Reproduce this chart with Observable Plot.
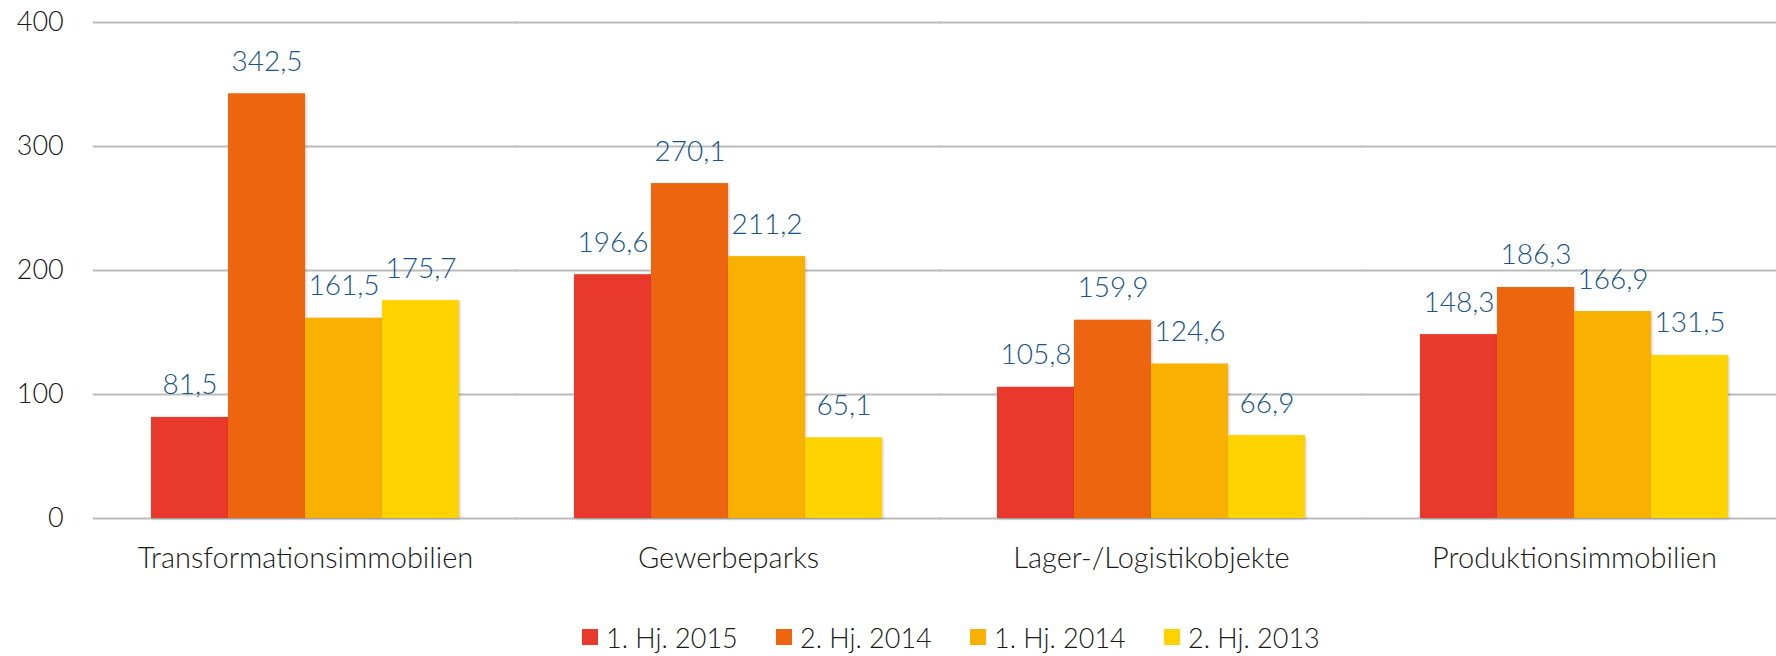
<!DOCTYPE html>
<html><head><meta charset="utf-8">
<script src="https://cdn.jsdelivr.net/npm/d3@7"></script>
<script src="https://cdn.jsdelivr.net/npm/@observablehq/plot@0.6"></script>
<style>
body{margin:0;background:#fff;font-family:Lato,sans-serif;font-weight:300;}
#legend{display:flex;align-items:center;height:74px;padding-left:582px;font-size:27px;color:#1a1a1a;font-family:Lato,sans-serif;font-weight:300;}
.item{display:flex;align-items:center;width:194px;white-space:nowrap;}
.sw{width:16px;height:16px;margin-right:8px;flex:none;}
svg rect{filter:drop-shadow(1px 1px 1.5px rgba(0,0,0,0.22));}
</style></head><body>
<div id="chart"></div><div id="legend"></div>
<script>
const categories = ["Transformationsimmobilien", "Gewerbeparks", "Lager-/Logistikobjekte", "Produktionsimmobilien"];
const series = ["1. Hj. 2015", "2. Hj. 2014", "1. Hj. 2014", "2. Hj. 2013"];
const colors = ["#E8392C", "#EE6510", "#F8B100", "#FED300"];
const h1_2015 = [81.5, 196.6, 105.8, 148.3];
const h2_2014 = [342.5, 270.1, 159.9, 186.3];
const h1_2014 = [161.5, 211.2, 124.6, 166.9];
const h2_2013 = [175.7, 65.1, 66.9, 131.5];
const yTicks = [0, 100, 200, 300, 400];

const seriesValues = [h1_2015, h2_2014, h1_2014, h2_2013];
const data = [];
categories.forEach((c, i) => series.forEach((s, j) => data.push({category: c, series: s, value: seriesValues[j][i]})));
const fmt = v => d3.format(".1f")(v).replace(".", ",");

const W = 1776, ML = 92, MR = -10, PI = 0.2727, PO = 0.1364;
const step = (W - ML - MR) / (categories.length - PI + 2 * PO);
const halfGap = step * PI / 2;
const outerGap = step * PO;

const chart = Plot.plot({
  width: W,
  height: 600,
  marginLeft: ML,
  marginRight: MR,
  marginTop: 22,
  marginBottom: 82,
  style: {fontFamily: "Lato, sans-serif", fontWeight: 300, fontSize: "27px", color: "#1a1a1a", background: "#fff"},
  fx: {domain: categories, paddingInner: PI, paddingOuter: PO, axis: "bottom", tickSize: 0, tickPadding: 29, label: null},
  x: {domain: series, padding: 0, axis: null},
  y: {domain: [0, 400], ticks: yTicks, tickSize: 0, tickPadding: 30 + outerGap, label: null},
  color: {domain: series, range: colors},
  marks: [
    Plot.ruleY(yTicks, {stroke: "#bcbcbc", strokeWidth: 2, insetLeft: -halfGap - 0.5, insetRight: -halfGap - 0.5}),
    Plot.barY(data, {fx: "category", x: "series", y: "value", fill: "series"}),
    Plot.text(data, {fx: "category", x: "series", y: "value", text: d => fmt(d.value), dy: -32, fill: "#1A5586", fontSize: 28})
  ]
});
chart.querySelectorAll('g[aria-label="fx-axis tick label"] text').forEach(t => t.style.fontSize = "29px");
document.getElementById("chart").appendChild(chart);

const legend = document.getElementById("legend");
series.forEach((s, i) => {
  const it = document.createElement("div"); it.className = "item";
  const sw = document.createElement("div"); sw.className = "sw"; sw.style.background = colors[i];
  const t = document.createElement("span"); t.textContent = s;
  it.appendChild(sw); it.appendChild(t); legend.appendChild(it);
});
</script></body></html>
